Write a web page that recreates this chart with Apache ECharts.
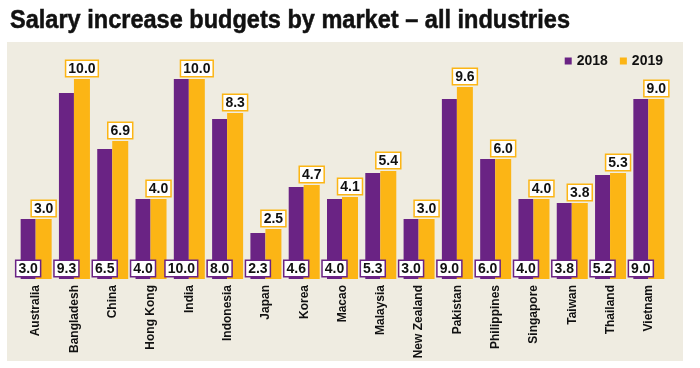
<!DOCTYPE html>
<html><head><meta charset="utf-8">
<script src="https://cdn.jsdelivr.net/npm/echarts@6/dist/echarts.min.js"></script>
<style>html,body{margin:0;padding:0;background:#fff}#c{width:700px;height:368px}</style>
</head><body><div id="c"></div>
<script>
const categories = ["Australia","Bangladesh","China","Hong Kong","India","Indonesia","Japan","Korea","Macao","Malaysia","New Zealand","Pakistan","Philippines","Singapore","Taiwan","Thailand","Vietnam"];
const values2018 = [3.0,9.3,6.5,4.0,10.0,8.0,2.3,4.6,4.0,5.3,3.0,9.0,6.0,4.0,3.8,5.2,9.0];
const values2019 = [3.0,10.0,6.9,4.0,10.0,8.3,2.5,4.7,4.1,5.4,3.0,9.6,6.0,4.0,3.8,5.3,9.0];
const seriesNames = ["2018","2019"];
const titleText = "Salary increase budgets by market \u2013 all industries";

const PURPLE = "#6a2384", YELLOW = "#fcb515", BG = "#efece1";
const TITLE_FONT = 'bold 25px "Liberation Sans"';
const cv = document.createElement('canvas').getContext('2d');
cv.font = TITLE_FONT;
const titleScale = 560 / cv.measureText(titleText).width;

const chart = echarts.init(document.getElementById('c'));
const lbl = (border, pos, dist) => ({
  show: true, position: pos, distance: dist,
  formatter: p => p.value.toFixed(1),
  color: '#111', fontWeight: 'bold', fontSize: 14, fontFamily: "Liberation Sans",
  backgroundColor: '#fff', borderColor: border, borderWidth: 1.5,
  padding: [1, 2, 0, 2], lineHeight: 14
});
chart.setOption({
  animation: false,
  backgroundColor: '#fff',
  graphic: [
    { type: 'rect', z: -10, shape: { x: 7, y: 42, width: 676, height: 319 }, style: { fill: BG } },
    { type: 'text', x: 10, y: 21, scaleX: titleScale, z: 10,
      style: { text: titleText, font: TITLE_FONT, fill: '#111', stroke: '#111', lineWidth: 0.5,
        verticalAlign: 'middle', align: 'left' } }
  ],
  legend: { right: 32, top: 49, itemWidth: 7, itemHeight: 7, itemGap: 12, icon: 'rect',
    textStyle: { fontFamily: "Liberation Sans", fontWeight: 'bold', fontSize: 14, color: '#111' },
    data: seriesNames },
  grid: { left: 17, right: 32, top: 39, bottom: 89 },
  xAxis: { type: 'category', data: categories,
    axisLine: { show: false }, axisTick: { show: false },
    axisLabel: { rotate: 90, interval: 0, margin: 6, fontFamily: "Liberation Sans", fontWeight: 'bold', fontSize: 12, color: '#111' } },
  yAxis: { type: 'value', min: 0, max: 12, show: false, splitLine: { show: false } },
  series: [
    { name: seriesNames[0], type: 'bar', data: values2018, barWidth: 15, barGap: '0%',
      itemStyle: { color: PURPLE }, label: lbl(PURPLE, 'insideBottom', 3) },
    { name: seriesNames[1], type: 'bar', data: values2019, barWidth: 16,
      itemStyle: { color: YELLOW }, label: lbl(YELLOW, 'top', 3) }
  ]
});
</script></body></html>
